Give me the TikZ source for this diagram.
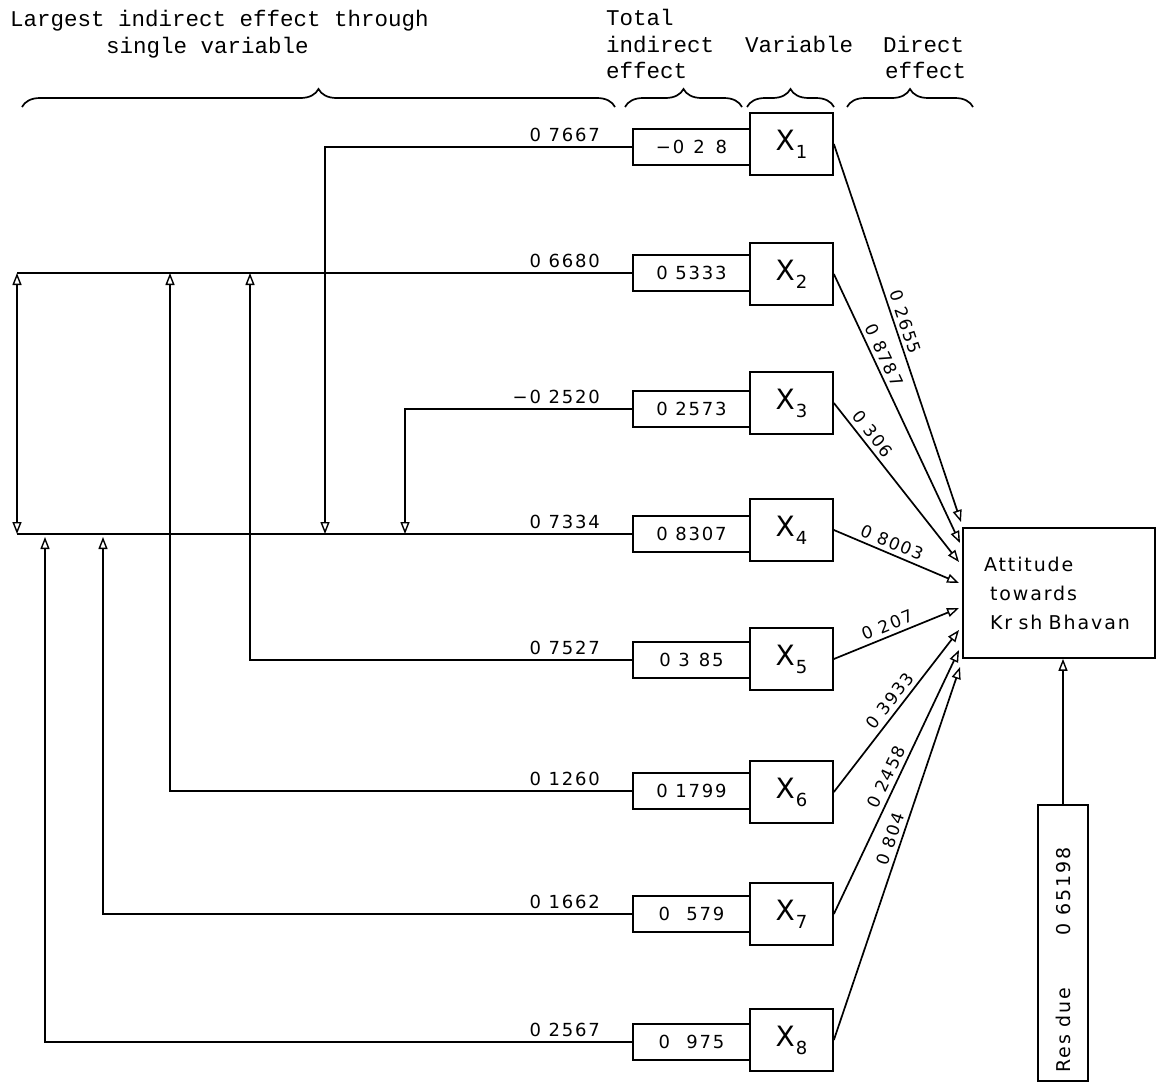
\documentclass[tikz,border=0pt]{standalone}
\usepackage{fontspec}
\setmainfont{DejaVu Sans}
\newfontfamily\twfont{Liberation Mono}
\newfontfamily\hwfont[LetterSpace=10]{DejaVu Sans}
\usetikzlibrary{arrows.meta,decorations.pathreplacing}
\newcommand\xvar[1]{X\kern1pt\raisebox{-0.28em}{\fontsize{18}{18}\selectfont #1}}
\begin{document}
\begin{tikzpicture}[x=1pt,y=-1pt,
  ln/.style={line width=1.7pt},
  tip/.tip={Triangle[open,length=12pt,width=9pt,line width=1.4pt]},
  arr/.style={ln,-tip},
  darr/.style={ln,tip-tip},
  hdr/.style={font=\twfont\fontsize{22.5}{26}\selectfont, inner sep=0pt, anchor=base west},
  valbox/.style={draw, ln, minimum width=117pt, minimum height=36pt, inner sep=0pt, font=\hwfont\fontsize{18}{22}\selectfont},
  varbox/.style={draw, ln, minimum width=83pt, minimum height=62pt, inner sep=0pt, font=\fontsize{28}{30}\selectfont},
  lab/.style={font=\hwfont\fontsize{18}{22}\selectfont, anchor=south east, inner sep=2pt},
  dlab/.style={font=\hwfont\fontsize{17}{22}\selectfont, sloped, above, inner sep=4pt},
  brc/.style={decorate, decoration={brace, amplitude=18pt}, ln}
]
\useasboundingbox (0,0) rectangle (1162,1084);

% headers
\node[hdr] (h1) at (10,27) {Largest indirect effect through};
\node[hdr] (h2) at (106,53) {single variable};
\node[hdr] (h3) at (606,25) {Total};
\node[hdr] (h4) at (606,52) {indirect};
\node[hdr] (h5) at (606,78) {effect};
\node[hdr] (h6) at (745,52) {Variable};
\node[hdr] (h7) at (883,52) {Direct};
\node[hdr] (h8) at (885,78) {effect};

% braces
\coordinate (b1a) at (22,107); \coordinate (b1b) at (615,107);
\coordinate (b2a) at (625,107); \coordinate (b2b) at (742,107);
\coordinate (b3a) at (747,107); \coordinate (b3b) at (834,107);
\coordinate (b4a) at (847,107); \coordinate (b4b) at (973,107);
\draw[brc] (b1a) -- (b1b);
\draw[brc] (b2a) -- (b2b);
\draw[brc] (b3a) -- (b3b);
\draw[brc] (b4a) -- (b4b);

% variable boxes
\node[varbox] (v1) at (791.5,144) {\xvar{1}};
\node[varbox] (v2) at (791.5,274) {\xvar{2}};
\node[varbox] (v3) at (791.5,403) {\xvar{3}};
\node[varbox] (v4) at (791.5,530) {\xvar{4}};
\node[varbox] (v5) at (791.5,659) {\xvar{5}};
\node[varbox] (v6) at (791.5,792) {\xvar{6}};
\node[varbox] (v7) at (791.5,914) {\xvar{7}};
\node[varbox] (v8) at (791.5,1040) {\xvar{8}};

% total indirect boxes
\node[valbox] (s1) at (691.5,147) {−0\hspace{0.5em}2\hspace{0.6em}8};
\node[valbox] (s2) at (691.5,273) {0 5333};
\node[valbox] (s3) at (691.5,409) {0 2573};
\node[valbox] (s4) at (691.5,534) {0 8307};
\node[valbox] (s5) at (691.5,660) {0 3\hspace{0.5em}85};
\node[valbox] (s6) at (691.5,791) {0 1799};
\node[valbox] (s7) at (691.5,914) {0\hspace{0.9em}579};
\node[valbox] (s8) at (691.5,1042) {0\hspace{0.9em}975};

% largest indirect effect labels
\node[lab] (l1) at (602,144) {0 7667};
\node[lab] (l2) at (602,270) {0 6680};
\node[lab] (l3) at (602,406) {−0 2520};
\node[lab] (l4) at (602,531) {0 7334};
\node[lab] (l5) at (602,657) {0 7527};
\node[lab] (l6) at (602,788) {0 1260};
\node[lab] (l7) at (602,911) {0 1662};
\node[lab] (l8) at (602,1039) {0 2567};

% left connectors
\coordinate (L2) at (17,273);
\coordinate (L4) at (17,534);
\coordinate (c1) at (325,534);
\coordinate (c3) at (405,534);
\coordinate (c5) at (250,273);
\coordinate (c6) at (170,273);
\coordinate (c7) at (103,537);
\coordinate (c8) at (45,537);
\draw[ln] (s2.west) -- (L2);
\draw[ln] (s4.west) -- (L4);
\draw[darr] (L2) -- (L4);
\draw[arr] (s1.west) -| (c1);
\draw[arr] (s3.west) -| (c3);
\draw[arr] (s5.west) -| (c5);
\draw[arr] (s6.west) -| (c6);
\draw[arr] (s7.west) -| (c7);
\draw[arr] (s8.west) -| (c8);

% attitude box
\node[draw, ln, minimum width=192pt, minimum height=130pt, text width=150pt, align=left,
      font=\hwfont\fontsize{19}{29}\selectfont] (att) at (1059,593)
  {Attitude\\\hspace*{6pt}towards\\\hspace*{6pt}Kr sh Bhavan};

% direct effect endpoints
\coordinate (e1) at (961,522);
\coordinate (e2) at (960,543);
\coordinate (e3) at (959,562);
\coordinate (e4) at (959,583);
\coordinate (e5) at (959,608);
\coordinate (e6) at (959,630);
\coordinate (e7) at (959,650);
\coordinate (e8) at (960,667);
\draw[arr] (v1.east) -- (e1) node[dlab, pos=0.48] {0 2655};
\draw[arr] (v2.east) -- (e2) node[dlab, pos=0.32] {0 8787};
\draw[arr] (v3.east) -- (e3) node[dlab, pos=0.24] {0 306};
\draw[arr] (v4.east) -- (e4) node[dlab, pos=0.43] {0 8003};
\draw[arr] (v5.east) -- (e5) node[dlab, pos=0.46] {0 207};
\draw[arr] (v6.east) -- (e6) node[dlab, pos=0.52] {0 3933};
\draw[arr] (v7.east) -- (e7) node[dlab, pos=0.50] {0 2458};
\draw[arr] (v8.east) -- (e8) node[dlab, pos=0.53] {0 804};

% residue
\node[draw, ln, rotate=90, minimum width=276pt, minimum height=50pt, inner sep=0pt,
      font=\hwfont\fontsize{19}{22}\selectfont] (res) at (1063,943)
  {Res due\hspace{52pt}0 65198\hspace*{34pt}};
\draw[arr] (res.east) -- (res.east |- att.south);
\end{tikzpicture}
\end{document}
